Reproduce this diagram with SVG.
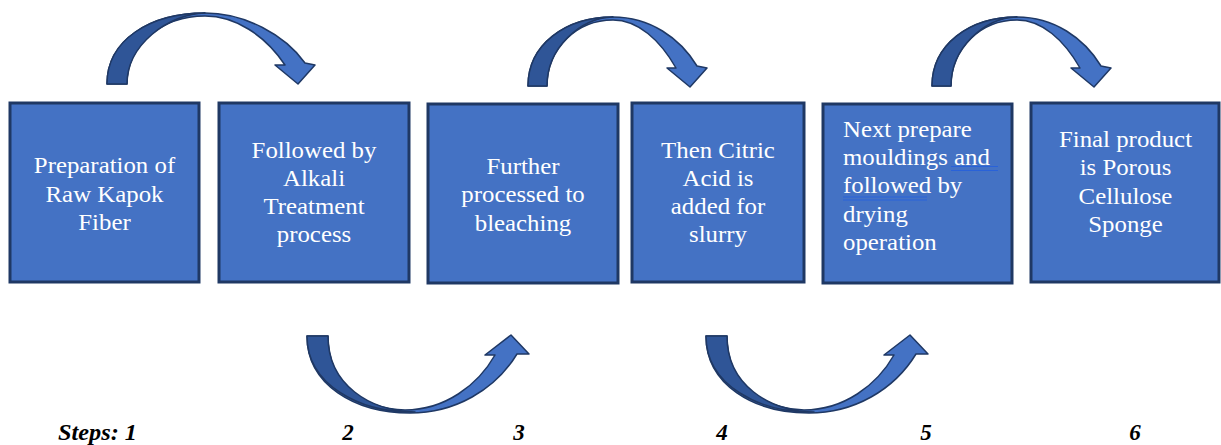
<svg xmlns="http://www.w3.org/2000/svg" width="1221" height="445" viewBox="0 0 1221 445">
<defs>
<style>
.box{fill:#4472c4;stroke:#1f3864;stroke-width:3}
.lt{fill:#4472c4;stroke:#1f3864;stroke-width:1.5;stroke-linejoin:round}
.dk{fill:#2f5597;stroke:#1f3864;stroke-width:1.5;stroke-linejoin:round}
.t{font-size:23px;fill:#ffffff}
.c{text-anchor:middle}
.s{font-size:23px;font-weight:bold;font-style:italic;fill:#000000}
.ul{stroke:#2962d9;stroke-width:1.2;fill:none}
</style>
<g id="arrowTop1">
<path class="lt" d="M107,84 C107,40 150,13 205,13 C245,13 285,35 305,63 L315,65 L298,84 L275,65 L285,65 C265,35 235,16 205,16 C162,16 127,45 127,84 Z"/>
<path class="dk" d="M107,84 C107,40 150,13 205,13 C168,14 127,45 127,84 Z"/>
</g>
<g id="arrowTop2">
<path class="lt" d="M528,86 C528,45 565,17 613,17 C650,17 680,38 697,66 L707,68 L690,87 L667,68 L676,68 C660,40 638,20 613,20 C577,20 547,48 547,86 Z"/>
<path class="dk" d="M528,86 C528,45 565,17 613,17 C580,18 547,48 547,86 Z"/>
</g>
<g id="arrowBot">
<path class="lt" d="M307,336 C307,385 355,413 410,413 C455,413 495,390 517,354 L529,354 L511,335 L485,355 L495,355 C478,385 445,410 405,410 C365,409 328,385 328,336 Z"/>
<path class="dk" d="M307,336 L328,336 C328,385 370,411 415,412 C360,413 307,385 307,336 Z"/>
</g>
</defs>

<g id="connectors">
<use href="#arrowTop1"/>
<use href="#arrowTop2"/>
<use href="#arrowTop2" transform="translate(404,0)"/>
<use href="#arrowBot"/>
<use href="#arrowBot" transform="translate(399,0)"/>
</g>

<g font-family="'Liberation Serif','Times New Roman',serif">
<g id="node1">
<rect class="box" x="10" y="103" width="189" height="179"/>
<text class="t c" transform="translate(104.5,0) scale(1.08 1)"><tspan x="0" y="173">Preparation of</tspan><tspan x="0" y="202">Raw Kapok</tspan><tspan x="0" y="230">Fiber</tspan></text>
</g>
<g id="node2">
<rect class="box" x="219" y="103" width="190" height="179"/>
<text class="t c" transform="translate(314,0) scale(1.08 1)"><tspan x="0" y="158">Followed by</tspan><tspan x="0" y="186">Alkali</tspan><tspan x="0" y="214">Treatment</tspan><tspan x="0" y="242">process</tspan></text>
</g>
<g id="node3">
<rect class="box" x="428" y="104" width="190" height="179"/>
<text class="t c" transform="translate(523,0) scale(1.08 1)"><tspan x="0" y="174">Further</tspan><tspan x="0" y="202">processed to</tspan><tspan x="0" y="231">bleaching</tspan></text>
</g>
<g id="node4">
<rect class="box" x="632" y="103" width="172" height="179"/>
<text class="t c" transform="translate(718,0) scale(1.08 1)"><tspan x="0" y="158">Then Citric</tspan><tspan x="0" y="186">Acid is</tspan><tspan x="0" y="214">added for</tspan><tspan x="0" y="242">slurry</tspan></text>
</g>
<g id="node5">
<rect class="box" x="823" y="104" width="189" height="179"/>
<text class="t" transform="translate(843,0) scale(1.08 1)"><tspan x="0" y="137">Next prepare</tspan><tspan x="0" y="165">mouldings and</tspan><tspan x="0" y="193">followed by</tspan><tspan x="0" y="222">drying</tspan><tspan x="0" y="250">operation</tspan></text>
<path class="ul" d="M951,166.5 H998 M951,170.5 H998 M843,197 H927 M843,200 H927"/>
</g>
<g id="node6">
<rect class="box" x="1031" y="103" width="188" height="179"/>
<text class="t c" transform="translate(1125.5,0) scale(1.08 1)"><tspan x="0" y="147">Final product</tspan><tspan x="0" y="175">is Porous</tspan><tspan x="0" y="204">Cellulose</tspan><tspan x="0" y="232">Sponge</tspan></text>
</g>

<g id="steps">
<text class="s" x="58" y="440" textLength="79" lengthAdjust="spacingAndGlyphs">Steps: 1</text>
<text class="s c" x="348" y="440">2</text>
<text class="s c" x="519" y="440">3</text>
<text class="s c" x="722" y="440">4</text>
<text class="s c" x="926" y="440">5</text>
<text class="s c" x="1135" y="440">6</text>
</g>
</g>
</svg>
